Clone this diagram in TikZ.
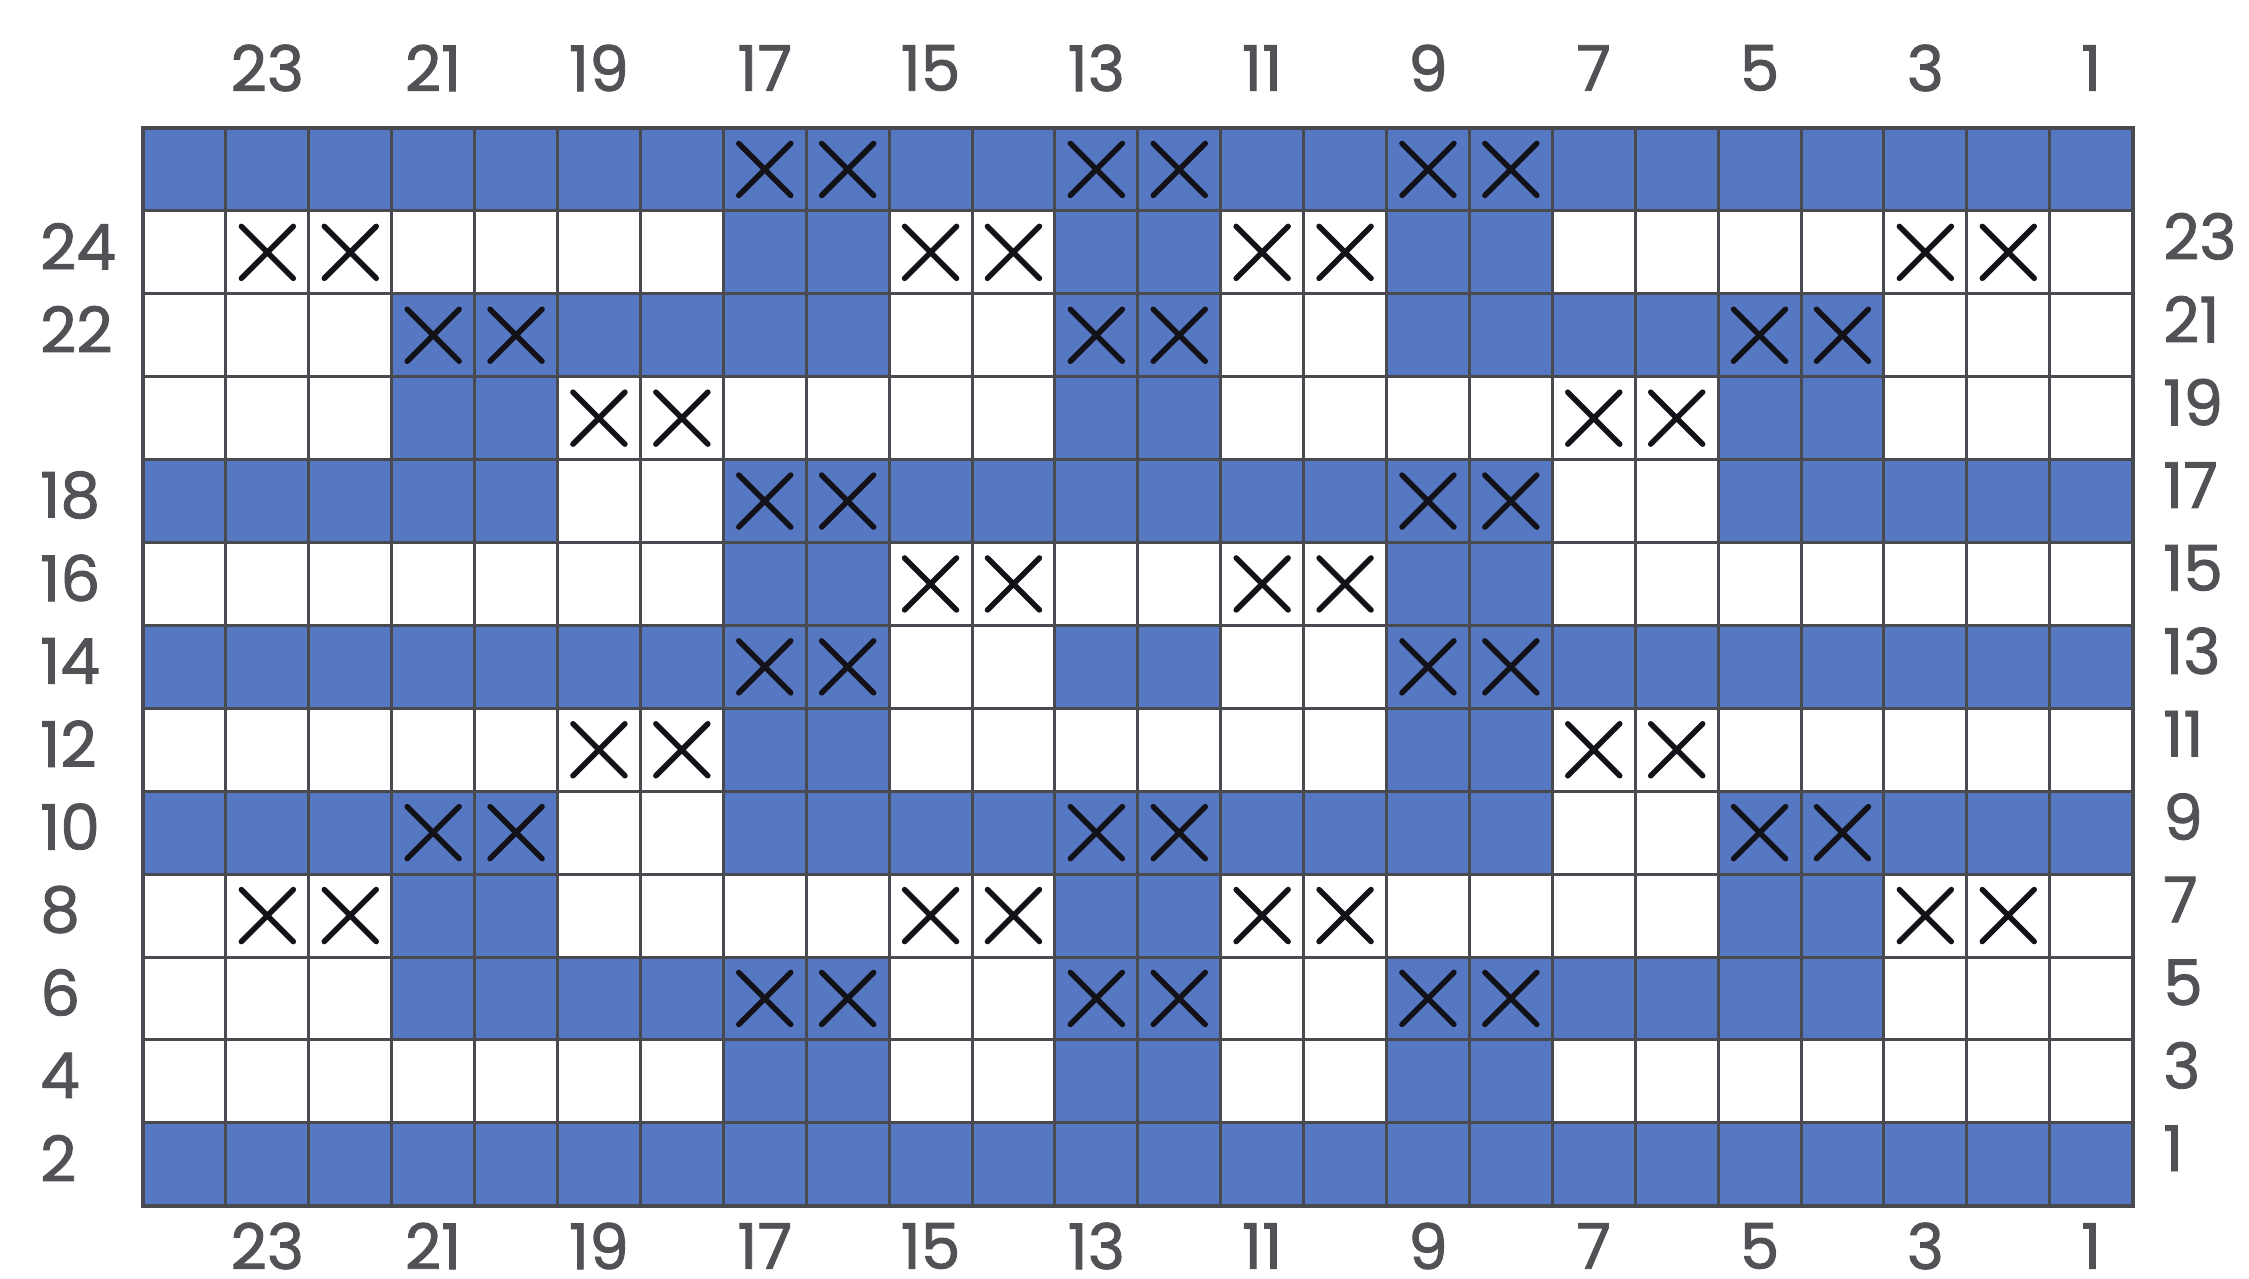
\documentclass[tikz,border=0pt]{standalone}
\usepackage{fontspec}
\setmainfont{Poppins}
\newfontfamily\lblfont[FakeBold=1.4]{Poppins}
\definecolor{knitblue}{RGB}{86,119,193}
\definecolor{gridgray}{RGB}{72,74,80}
\definecolor{labelgray}{RGB}{82,82,86}
\definecolor{xblack}{RGB}{18,18,24}
\tikzset{
  gridline/.style={draw=gridgray, line width=3pt},
  border/.style={draw=gridgray, line width=4pt},
  xmark/.style={draw=xblack, line width=5.5pt, line cap=round},
  lbl/.style={text=labelgray, inner sep=0pt, font=\lblfont\fontsize{63}{63}\selectfont},
}
\begin{document}
\begin{tikzpicture}[x=1pt,y=-1pt]
\useasboundingbox (0,0) rectangle (2249,1278);
\fill[white] (0,0) rectangle (2249,1278);
\def\L{143}\def\T{128}\def\C{82.9}
% 0 white, 1 blue, 2 white+X, 3 blue+X
\foreach \rowlist [count=\r] in {
 {1,1,1,1,1,1,1,3,3,1,1,3,3,1,1,3,3,1,1,1,1,1,1,1},
 {0,2,2,0,0,0,0,1,1,2,2,1,1,2,2,1,1,0,0,0,0,2,2,0},
 {0,0,0,3,3,1,1,1,1,0,0,3,3,0,0,1,1,1,1,3,3,0,0,0},
 {0,0,0,1,1,2,2,0,0,0,0,1,1,0,0,0,0,2,2,1,1,0,0,0},
 {1,1,1,1,1,0,0,3,3,1,1,1,1,1,1,3,3,0,0,1,1,1,1,1},
 {0,0,0,0,0,0,0,1,1,2,2,0,0,2,2,1,1,0,0,0,0,0,0,0},
 {1,1,1,1,1,1,1,3,3,0,0,1,1,0,0,3,3,1,1,1,1,1,1,1},
 {0,0,0,0,0,2,2,1,1,0,0,0,0,0,0,1,1,2,2,0,0,0,0,0},
 {1,1,1,3,3,0,0,1,1,1,1,3,3,1,1,1,1,0,0,3,3,1,1,1},
 {0,2,2,1,1,0,0,0,0,2,2,1,1,2,2,0,0,0,0,1,1,2,2,0},
 {0,0,0,1,1,1,1,3,3,0,0,3,3,0,0,3,3,1,1,1,1,0,0,0},
 {0,0,0,0,0,0,0,1,1,0,0,1,1,0,0,1,1,0,0,0,0,0,0,0},
 {1,1,1,1,1,1,1,1,1,1,1,1,1,1,1,1,1,1,1,1,1,1,1,1}}{
  \foreach \v [count=\c] in \rowlist {
    \ifodd\v
      \fill[knitblue] ({\L+(\c-1)*\C},{\T+(\r-1)*\C}) rectangle ({\L+\c*\C},{\T+\r*\C});
    \fi
    \ifnum\v>1
      \path[xmark] ({\L+(\c-0.5)*\C-26},{\T+(\r-0.5)*\C-26}) -- ({\L+(\c-0.5)*\C+26},{\T+(\r-0.5)*\C+26})
                   ({\L+(\c-0.5)*\C-26},{\T+(\r-0.5)*\C+26}) -- ({\L+(\c-0.5)*\C+26},{\T+(\r-0.5)*\C-26});
    \fi
  }
}
% grid lines
\foreach \i in {1,...,23}
  \draw[gridline] ({\L+\i*\C},\T) -- ({\L+\i*\C},{\T+13*\C});
\foreach \j in {1,...,12}
  \draw[gridline] (\L,{\T+\j*\C}) -- ({\L+24*\C},{\T+\j*\C});
\draw[border] (\L,\T) rectangle ({\L+24*\C},{\T+13*\C});
% column labels
\foreach \n in {1,3,...,23}{
  \node[lbl] (top\n) at ({\L+(24.5-\n)*\C},68) {\n};
  \node[lbl] (bot\n) at ({\L+(24.5-\n)*\C},1246) {\n};
}
% row labels
\foreach \r in {2,...,13}{
  \pgfmathtruncatemacro\k{14-\r}
  \pgfmathtruncatemacro\rt{2*\k-1}
  \pgfmathtruncatemacro\lf{2*\k}
  \node[lbl, anchor=west] (right\rt) at (2163,{\T+(\r-0.5)*\C-16}) {\rt};
  \ifnum\lf=20\else
    \node[lbl, anchor=west] (left\lf) at (40,{\T+(\r-0.5)*\C-6}) {\lf};
  \fi
}
\end{tikzpicture}
\end{document}
